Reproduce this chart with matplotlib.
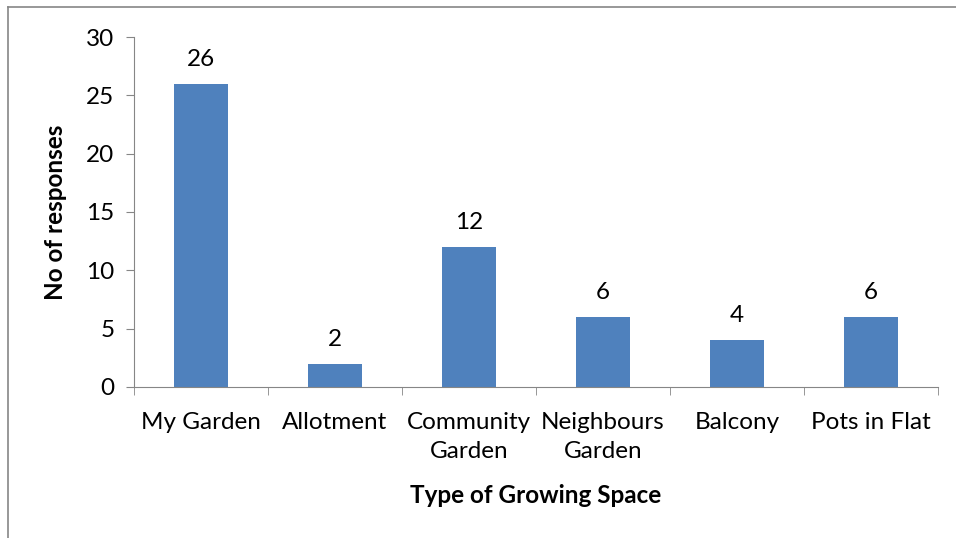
import matplotlib.pyplot as plt
from matplotlib.lines import Line2D

categories = ['My Garden', 'Allotment', 'Community\nGarden', 'Neighbours\nGarden', 'Balcony', 'Pots in Flat']
responses = [26, 2, 12, 6, 4, 6]

plt.rcParams['font.family'] = ['Lato', 'DejaVu Sans']

fig = plt.figure(figsize=(9.56, 5.38), dpi=100)
ax = fig.add_axes([0.140, 0.2807, 0.841, 0.6505])

x = list(range(len(categories)))
ax.bar(x, responses, width=0.4, color='#4F81BD')
for xi, v in zip(x, responses):
    ax.annotate(str(v), (xi, v), xytext=(0, 10), textcoords='offset points',
                ha='center', va='bottom', fontsize=17.5)

ax.set_xlim(-0.5, len(categories) - 0.5)
ax.set_ylim(0, 30)
ax.set_yticks([0, 5, 10, 15, 20, 25, 30])
ax.set_xticks(x)
ax.set_xticklabels(categories, fontsize=17.5, linespacing=1.45)
ax.set_xticks([i - 0.5 for i in range(len(categories) + 1)], minor=True)
ax.tick_params(axis='x', which='major', length=0, pad=18)
ax.tick_params(axis='x', which='minor', length=6, color='#868686', direction='out')
ax.tick_params(axis='y', length=6, color='#868686', labelsize=17.5, pad=8)

for s in ['top', 'right']:
    ax.spines[s].set_visible(False)
for s in ['left', 'bottom']:
    ax.spines[s].set_color('#868686')

ax.set_ylabel('No of responses', fontsize=17.5, fontweight='bold', labelpad=14)
ax.set_xlabel('Type of Growing Space', fontsize=17.5, fontweight='bold', labelpad=16)

# outer chart border (left and top)
fig.add_artist(Line2D([8 / 956, 8 / 956], [0, 1 - 7 / 538], transform=fig.transFigure, color='#868686', lw=1.2))
fig.add_artist(Line2D([8 / 956, 1], [1 - 7 / 538, 1 - 7 / 538], transform=fig.transFigure, color='#868686', lw=1.2))

fig.savefig('out.png', dpi=100)
